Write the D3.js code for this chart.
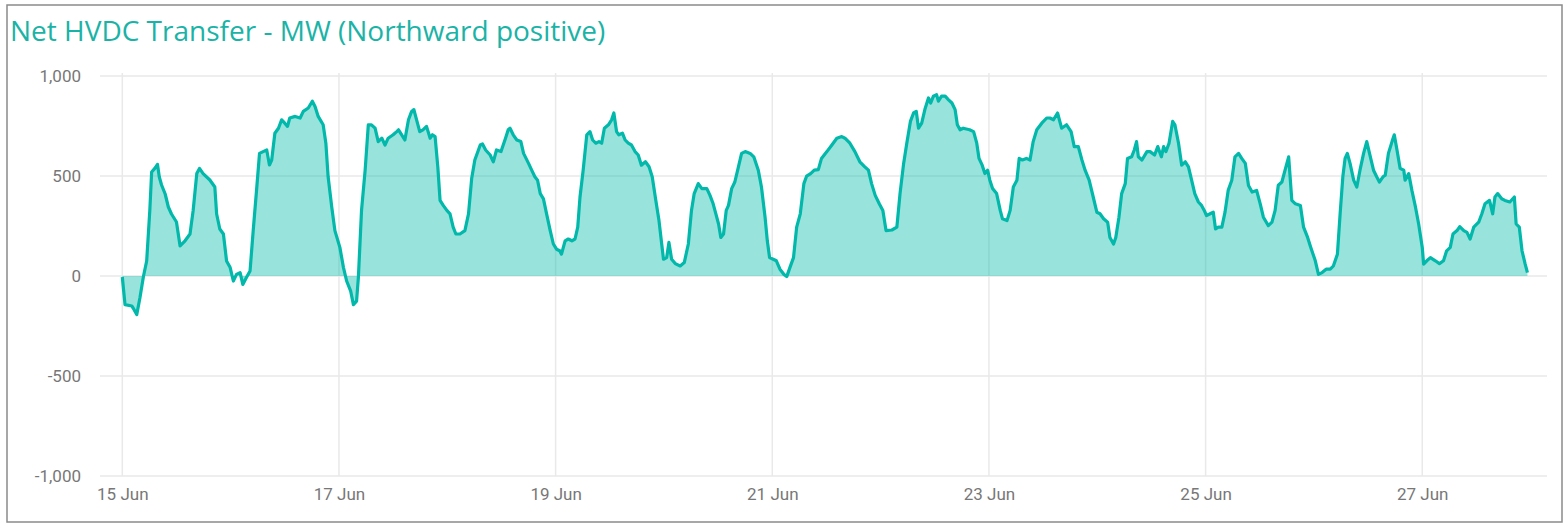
<!DOCTYPE html>
<html>
<head>
<meta charset="utf-8">
<script src="https://cdn.jsdelivr.net/npm/d3@7.9.0/dist/d3.min.js"></script>
<style>
  html, body { margin: 0; padding: 0; background: #fff; }
  svg { display: block; }
  .tick-label { font-family: "Roboto", sans-serif; fill: #777; }
</style>
</head>
<body>
<svg id="chart" width="1567" height="527"></svg>
<script>
// readings: hours after 15 Jun 00:00, and net transfer in MW
const hoursFromStart = [
  0, 0.6, 2.1, 2.4, 3.2, 3.9, 4.7, 5.4, 6.1, 6.5, 7.2, 7.8, 8.2, 8.7, 9.5, 10.2, 10.9, 12.0, 12.8, 13.9,
  15.0, 15.7, 16.5, 17.1, 17.9, 19.4, 20.5, 20.9, 21.6, 22.4, 23.1, 23.9, 24.6, 25.3, 26.1, 26.7, 27.5, 28.3, 29.0, 29.8,
  30.4, 31.2, 32.0, 32.6, 33.1, 33.8, 34.6, 35.3, 36.0, 36.6, 37.1, 38.3, 39.4, 40.1, 41.2, 42.1, 42.7, 43.4, 44.5, 45.1,
  45.6, 46.4, 47.1, 48.2, 49.0, 49.7, 50.6, 51.2, 51.9, 52.3, 53.0, 53.8, 54.5, 55.2, 56.0, 56.7, 57.5, 58.2, 58.9, 60.0,
  60.8, 61.2, 61.9, 62.6, 63.4, 64.1, 64.6, 65.2, 65.9, 66.6, 67.4, 68.2, 68.7, 69.3, 69.9, 70.4, 71.1, 71.9, 72.6, 73.3,
  73.9, 74.8, 75.9, 76.7, 77.4, 78.1, 79.3, 79.8, 80.5, 81.5, 82.2, 82.9, 83.9, 84.9, 85.5, 85.9, 86.6, 87.4, 88.3, 88.9,
  90.0, 90.7, 91.4, 92.0, 92.6, 93.3, 94.0, 94.8, 95.5, 96.2, 96.9, 97.3, 98.1, 98.8, 99.6, 100.3, 100.9, 101.4, 102.1, 102.9,
  103.6, 104.2, 104.9, 105.6, 106.2, 106.8, 107.7, 108.4, 108.9, 109.5, 110.0, 110.8, 111.4, 112.1, 112.8, 113.6, 114.3, 115.0, 115.9, 116.7,
  117.4, 118.2, 118.9, 119.5, 119.9, 120.6, 121.1, 121.7, 122.5, 123.6, 124.5, 125.4, 126.1, 126.7, 127.6, 128.4, 129.5, 130.2, 130.9, 131.5,
  132.1, 132.6, 133.2, 133.8, 134.3, 135.0, 135.7, 136.5, 137.2, 138.0, 139.1, 139.9, 140.9, 141.6, 142.4, 142.9, 143.4, 144.2, 144.9, 145.7,
  146.6, 147.2, 147.9, 148.7, 149.4, 150.2, 151.0, 151.6, 152.5, 153.3, 154.2, 154.9, 156.1, 157.2, 158.3, 159.4, 160.1, 161.2, 162.3, 163.4,
  164.5, 165.3, 166.0, 166.8, 167.7, 168.5, 169.2, 170.5, 171.6, 172.3, 173.1, 173.8, 174.6, 175.3, 175.9, 176.4, 177.1, 177.8, 178.6, 179.1,
  179.7, 180.4, 180.8, 181.5, 182.3, 183.0, 183.8, 184.5, 185.0, 185.6, 186.3, 187.7, 188.6, 189.3, 189.8, 190.5, 191.1, 191.7, 192.2, 192.8,
  193.7, 194.5, 195.0, 196.0, 196.7, 197.4, 198.2, 198.7, 199.4, 200.3, 201.1, 201.8, 202.6, 203.7, 204.8, 205.5, 206.3, 207.2, 208.1, 209.2,
  210.2, 210.9, 211.8, 212.6, 213.3, 214.2, 215.1, 215.9, 216.6, 217.4, 218.3, 218.8, 219.6, 220.1, 220.8, 221.4, 222.2, 222.7, 223.6, 224.2,
  224.7, 225.1, 225.9, 227.0, 227.7, 228.7, 229.4, 230.2, 230.7, 231.2, 231.9, 232.7, 233.2, 234.0, 234.7, 235.5, 236.2, 236.9, 237.6, 238.4,
  239.1, 239.7, 240.2, 241.0, 241.7, 242.2, 242.8, 243.6, 244.3, 245.0, 245.8, 246.5, 247.3, 248.0, 248.8, 249.5, 250.3, 251.3, 252.1, 252.8,
  253.9, 254.7, 255.4, 256.1, 256.9, 257.6, 258.4, 259.1, 259.9, 261.0, 261.7, 262.6, 263.3, 264.3, 265.0, 265.8, 266.7, 267.6, 268.3, 269.2,
  269.8, 270.4, 270.9, 271.4, 272.0, 272.8, 273.5, 274.2, 275.0, 275.7, 276.5, 277.2, 277.9, 278.5, 279.3, 279.8, 280.5, 281.3, 281.8, 282.4,
  283.1, 283.9, 284.2, 285.0, 285.7, 286.5, 287.2, 288.0, 288.3, 289.0, 289.8, 290.9, 291.8, 292.7, 293.4, 294.2, 294.8, 295.7, 296.3, 297.2,
  297.9, 298.6, 299.4, 300.5, 301.2, 301.9, 302.9, 303.6, 304.1, 304.7, 305.6, 306.3, 307.4, 308.4, 308.8, 309.5, 310.1, 310.8, 311.3
];
const transferMW = [
  -5, -143, -150, -160, -193, -110, 0, 75, 330, 520, 538, 558, 495, 455, 410, 345, 310, 270, 150, 176,
  210, 328, 512, 538, 512, 480, 445, 310, 235, 210, 75, 42, -25, 8, 17, -42, -8, 25, 227, 445,
  613, 622, 630, 555, 580, 714, 739, 781, 764, 748, 790, 798, 790, 823, 840, 874, 848, 798, 756, 664,
  496, 345, 227, 143, 42, -25, -76, -143, -126, -8, 328, 529, 756, 756, 739, 672, 689, 655, 689, 706,
  722, 731, 706, 680, 781, 823, 832, 781, 722, 731, 748, 689, 706, 697, 546, 378, 353, 328, 311, 244,
  210, 210, 227, 311, 487, 580, 655, 660, 630, 605, 571, 630, 622, 689, 731, 739, 706, 680, 672, 613,
  563, 529, 496, 479, 412, 386, 311, 227, 160, 134, 126, 109, 176, 185, 176, 185, 244, 395, 529, 706,
  722, 680, 664, 672, 664, 739, 756, 781, 815, 722, 706, 714, 680, 664, 655, 622, 605, 554, 571, 546,
  496, 378, 277, 160, 84, 92, 168, 84, 62, 50, 67, 160, 328, 412, 462, 437, 437, 403, 361, 311,
  260, 193, 210, 328, 353, 437, 470, 546, 613, 622, 613, 596, 529, 445, 294, 176, 92, 84, 76, 34,
  8, -3, 42, 92, 244, 311, 462, 499, 512, 529, 532, 588, 622, 655, 689, 697, 689, 664, 622, 571,
  546, 529, 462, 403, 361, 328, 227, 230, 244, 412, 563, 664, 773, 815, 823, 739, 764, 832, 890, 865,
  899, 907, 874, 899, 899, 882, 865, 832, 756, 731, 739, 731, 722, 664, 588, 554, 512, 529, 479, 437,
  412, 328, 286, 277, 328, 445, 479, 588, 580, 588, 580, 672, 731, 764, 790, 790, 781, 815, 739, 756,
  722, 647, 647, 580, 529, 479, 395, 319, 311, 286, 269, 193, 160, 193, 294, 412, 462, 588, 596, 630,
  672, 596, 580, 622, 622, 605, 647, 596, 647, 622, 664, 773, 756, 664, 554, 571, 546, 479, 412, 370,
  353, 328, 302, 311, 319, 235, 244, 244, 319, 428, 479, 596, 613, 588, 563, 453, 420, 428, 361, 294,
  252, 269, 328, 454, 470, 529, 596, 378, 361, 353, 244, 193, 143, 76, 8, 17, 34, 34, 50, 109,
  311, 496, 588, 613, 563, 479, 445, 529, 613, 672, 596, 529, 496, 470, 496, 504, 613, 672, 706, 630,
  538, 529, 479, 512, 428, 344, 260, 143, 59, 76, 92, 76, 62, 76, 126, 143, 210, 227, 247, 227,
  218, 185, 244, 269, 311, 361, 378, 311, 395, 412, 386, 378, 370, 395, 260, 244, 126, 59, 17
];
const yTicks = [-1000, -500, 0, 500, 1000];
const xTickDays = [15, 17, 19, 21, 23, 25, 27];
const titleText = "Net HVDC Transfer - MW (Northward positive)";

const teal = "#01B8AA";
const start = new Date(2019, 5, 15);
const end = new Date(2019, 5, 28);

const data = hoursFromStart.map((h, i) => ({
  t: new Date(start.getTime() + h * 3600 * 1000),
  v: transferMW[i]
}));

const svg = d3.select("#chart");

// frame
svg.append("rect")
  .attr("x", 7).attr("y", 5).attr("width", 1555).attr("height", 517)
  .attr("fill", "#fff").attr("stroke", "#8a8a8a").attr("stroke-width", 1.5);

svg.append("text")
  .attr("x", 10).attr("y", 41)
  .attr("font-family", "'Segoe UI', 'Open Sans', sans-serif")
  .attr("font-size", 28)
  .attr("fill", "#1ab3a6")
  .text(titleText);

const x = d3.scaleTime().domain([start, end]).range([122.3, 1530.6]);
const y = d3.scaleLinear().domain([-1000, 1000]).range([476, 76]);

const grid = svg.append("g");
grid.selectAll(".hgrid").data(yTicks).join("line")
  .attr("x1", 100).attr("x2", 1547)
  .attr("y1", d => y(d)).attr("y2", d => y(d))
  .attr("stroke", "#e9e9e9").attr("stroke-width", 1.5);

const xTickDates = xTickDays.map(d => new Date(2019, 5, d));
grid.selectAll(".vgrid").data(xTickDates).join("line")
  .attr("x1", d => x(d)).attr("x2", d => x(d))
  .attr("y1", 73).attr("y2", y(-1000))
  .attr("stroke", "#e9e9e9").attr("stroke-width", 1.5);

// plain hyphen for negatives, like the original
const fmt = d3.formatLocale({ decimal: ".", thousands: ",", grouping: [3], currency: ["", ""], minus: "-" }).format(",");

const yAxis = svg.append("g")
  .attr("transform", "translate(81,0)")
  .call(d3.axisLeft(y).tickValues(yTicks).tickFormat(fmt).tickSize(0).tickPadding(0));
yAxis.select(".domain").remove();
yAxis.selectAll("text").attr("class", "tick-label").attr("font-size", 17).attr("dy", "0.35em");

const xAxis = svg.append("g")
  .attr("transform", `translate(0,${y(-1000)})`)
  .call(d3.axisBottom(x).tickValues(xTickDates).tickFormat(d3.timeFormat("%-d Jun")).tickSize(0).tickPadding(12));
xAxis.select(".domain").remove();
xAxis.selectAll("text").attr("class", "tick-label").attr("font-size", 17);

const area = d3.area()
  .x(d => x(d.t))
  .y0(y(0))
  .y1(d => y(d.v));

const line = d3.line()
  .x(d => x(d.t))
  .y(d => y(d.v));

svg.append("path")
  .datum(data)
  .attr("d", area)
  .attr("fill", teal)
  .attr("fill-opacity", 0.4);

svg.append("path")
  .datum(data)
  .attr("d", line)
  .attr("fill", "none")
  .attr("stroke", teal)
  .attr("stroke-width", 3.2)
  .attr("stroke-linejoin", "round");
</script>
</body>
</html>
